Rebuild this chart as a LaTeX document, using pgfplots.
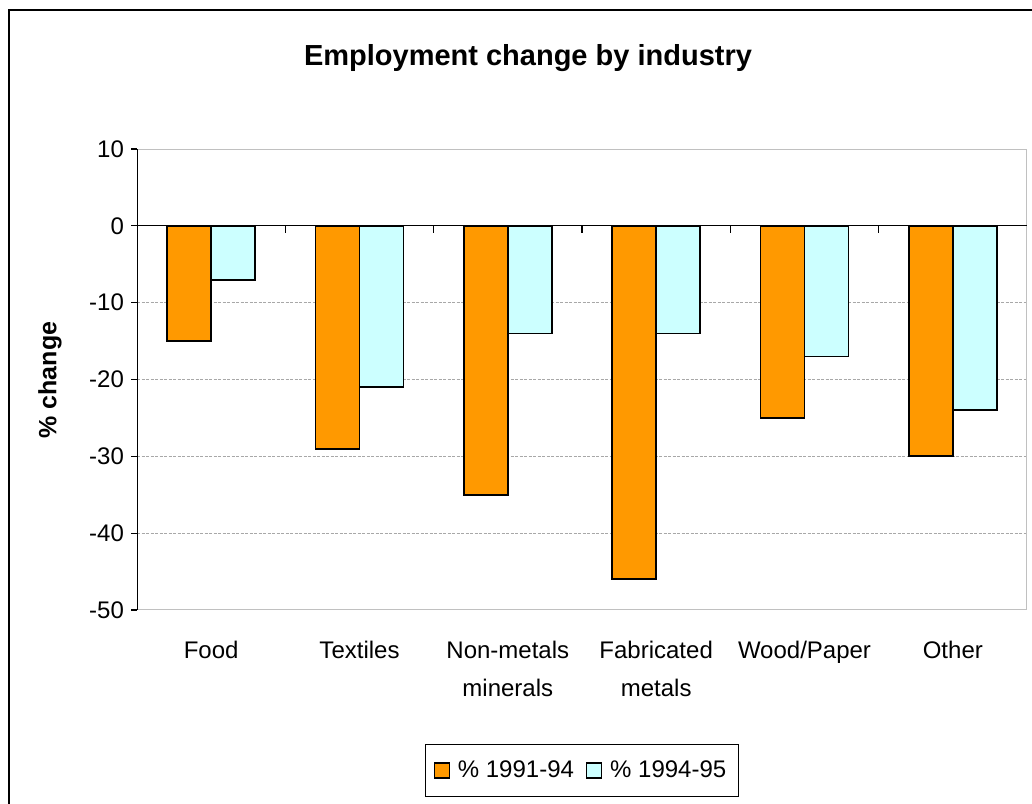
\documentclass[border=0pt]{standalone}
\usepackage{fontspec}
\setmainfont{Liberation Sans}
\usepackage{pgfplots}
\pgfplotsset{compat=1.18}
\definecolor{barorange}{HTML}{FF9900}
\definecolor{barcyan}{HTML}{CCFFFF}
\definecolor{gridgray}{HTML}{A8A8A8}
\definecolor{framegray}{HTML}{C0C0C0}
\begin{document}
\begin{tikzpicture}
\path[use as bounding box] (0,0) rectangle (516pt,-401.5pt);
\draw[line width=0.75pt] (4.5pt,-420pt) -- (4.5pt,-5pt) -- (530pt,-5pt);
\node[font=\fontsize{14.5}{17}\selectfont\bfseries] at (264pt,-29pt) {Employment change by industry};
\node[rotate=90,font=\fontsize{12.5}{15}\selectfont\bfseries] at (25pt,-190pt) {\% change};
\begin{axis}[
  at={(68.5pt,-74.5pt)}, anchor=north west,
  scale only axis, width=445pt, height=230.5pt,
  xmin=-0.5, xmax=5.5, ymin=-50, ymax=10,
  ybar=0pt, bar width=22pt,
  axis line style={draw=none},
  ytick={-50,-40,...,10},
  ytick pos=left,
  tick align=outside,
  major tick length=3pt,
  y tick style={black, line width=0.6pt},
  y tick label style={font=\fontsize{12}{14}\selectfont},
  /pgf/number format/assume math mode=true,
  ymajorgrids,
  grid style={gridgray, line width=0.5pt, dash pattern=on 1.5pt off 0.75pt},
  xtick={0,...,5},
  xticklabels={Food,Textiles,{Non-metals\\minerals},{Fabricated\\metals},Wood/Paper,Other},
  x tick label style={font=\fontsize{12}{19}\selectfont, align=center, anchor=north, inner sep=0pt, yshift=-12.5pt},
  major x tick style={draw=none},
  legend columns=2,
  legend style={at={(0.5,-0.348)}, anchor=center, draw=black, line width=0.5pt,
    font=\fontsize{12}{14}\selectfont, inner xsep=4pt, inner ysep=6pt,
    /tikz/every odd column/.append style={column sep=2pt},
    /tikz/every even column/.append style={column sep=4pt}},
  legend image code/.code={\draw[#1, line width=0.6pt] (0pt,-3.75pt) rectangle (7.5pt,3.75pt);},
]
\addplot[fill=barorange, draw=black, line width=0.9pt] coordinates {(0,-15) (1,-29) (2,-35) (3,-46) (4,-25) (5,-30)};
\addplot[fill=barcyan, draw=black, line width=0.9pt] coordinates {(0,-7) (1,-21) (2,-14) (3,-14) (4,-17) (5,-24)};
\legend{\% 1991-94, \% 1994-95}
\draw[framegray, line width=1pt] (axis cs:-0.5,10) -- (axis cs:5.5,10) -- (axis cs:5.5,-50) -- (axis cs:-0.5,-50);
\draw[black, line width=0.6pt] (axis cs:-0.5,10) -- (axis cs:-0.5,-50);
\draw[black, line width=0.6pt] (axis cs:-0.5,0) -- (axis cs:5.5,0);
\draw[black, line width=0.6pt] (axis cs:0.5,0) -- ([yshift=-3.5pt]axis cs:0.5,0);
\draw[black, line width=0.6pt] (axis cs:1.5,0) -- ([yshift=-3.5pt]axis cs:1.5,0);
\draw[black, line width=0.6pt] (axis cs:2.5,0) -- ([yshift=-3.5pt]axis cs:2.5,0);
\draw[black, line width=0.6pt] (axis cs:3.5,0) -- ([yshift=-3.5pt]axis cs:3.5,0);
\draw[black, line width=0.6pt] (axis cs:4.5,0) -- ([yshift=-3.5pt]axis cs:4.5,0);
\end{axis}
\end{tikzpicture}
\end{document}
